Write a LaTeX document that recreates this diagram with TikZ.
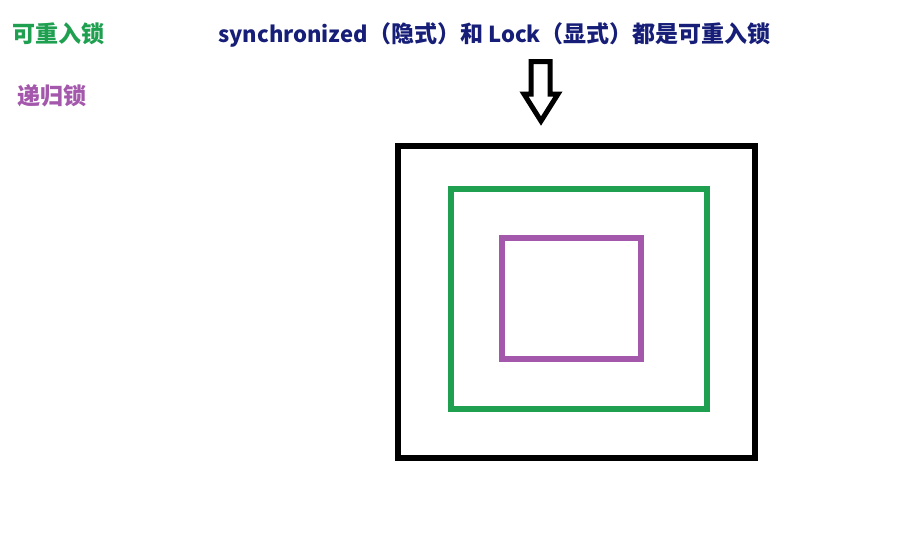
\documentclass[tikz,border=0pt]{standalone}
\usepackage{fontspec}
\usepackage{tikz}
\newfontfamily\cjk{Noto Sans CJK SC}
\definecolor{lockGreen}{RGB}{30, 160, 80}
\definecolor{lockPurple}{RGB}{164, 88, 172}
\definecolor{titleNavy}{RGB}{22, 30, 120}
\newcommand{\latinword}[1]{{\fontsize{22}{24}\selectfont #1}}

\begin{document}
\begin{tikzpicture}[x=1pt, y=-1pt]
        \useasboundingbox[fill=white] (0,0) rectangle (923,547);

        \node[anchor=west, inner sep=0pt, color=lockGreen, font=\cjk\bfseries\fontsize{23}{24}\selectfont] (reentrant) at (12, 34) {可重入锁};
        \node[anchor=west, inner sep=0pt, color=lockPurple, font=\cjk\bfseries\fontsize{23}{24}\selectfont] (recursive) at (17, 96) {递归锁};

        \node[anchor=west, inner sep=0pt, color=titleNavy, font=\cjk\bfseries\fontsize{23}{24}\selectfont] (title) at (218, 35) {\latinword{synchronized}（隐式）和 \latinword{Lock}（显式）都是可重入锁};

        \draw[line width=5pt, line join=miter] (531, 61.5) -- (550, 61.5) -- (550, 94) -- (558, 94) -- (541, 121) -- (524, 94) -- (531, 94) -- cycle;

        \draw[line width=5.5pt] (398, 146) rectangle (755, 458);
        \draw[line width=5.5pt, color=lockGreen] (451, 189) rectangle (707, 409);
        \draw[line width=5.5pt, color=lockPurple] (502, 238) rectangle (641, 359);
    \end{tikzpicture}
\end{document}
